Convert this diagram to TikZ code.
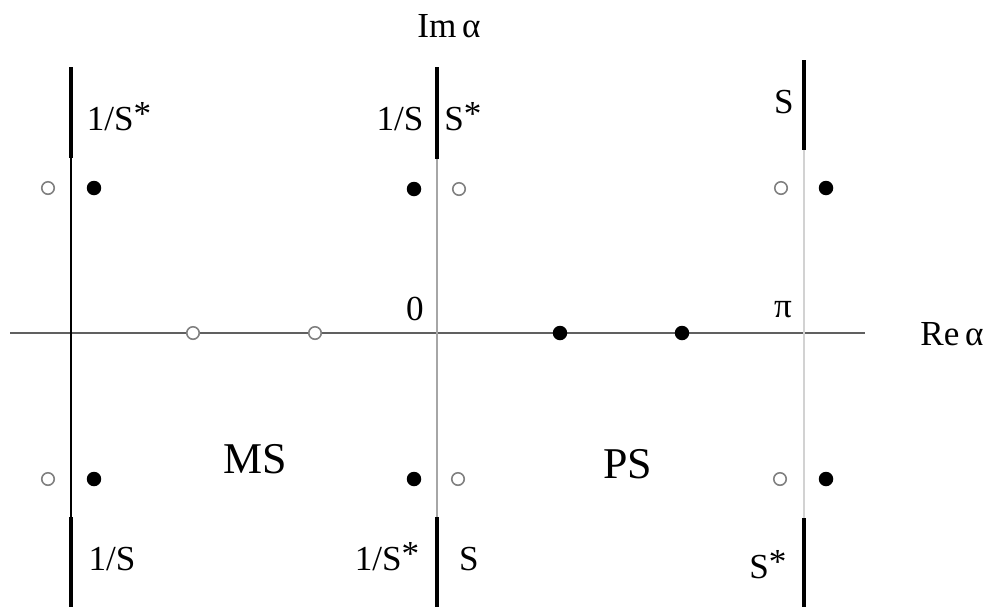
\documentclass[tikz,border=0pt]{standalone}
\usepackage{fontspec}
\setmainfont{Liberation Serif}
\newcommand{\st}{\raisebox{0.12em}{*}}
\begin{document}
\begin{tikzpicture}[x=0.02cm,y=-0.02cm,font=\fontsize{20}{24}\selectfont,
 lab/.style={anchor=base,inner sep=0pt},
 big/.style={anchor=base,inner sep=0pt,font=\fontsize{25}{30}\selectfont},
 cut/.style={line width=2.4pt},
 op/.style={circle,draw=gray,line width=0.9pt,fill=white,minimum size=0.25cm,inner sep=0pt},
 fi/.style={circle,fill=black,minimum size=0.29cm,inner sep=0pt}]
\useasboundingbox (0,0) rectangle (995,609);
% axes
\coordinate (xl) at (10,333);
\coordinate (xr) at (865,333);
\coordinate (Lt) at (71,67);   \coordinate (Lb) at (71,607);
\coordinate (Mt) at (437,67);  \coordinate (Mb) at (437,607);
\coordinate (Rt) at (804,60);  \coordinate (Rb) at (804,607);
\draw[gray!75!black,line width=1.3pt] (xl) -- (xr);
\draw[black,line width=0.8pt] (Lt) -- (Lb);
\draw[gray!70,line width=0.8pt] (Mt) -- (Mb);
\draw[gray!35,line width=0.8pt] (Rt) -- (Rb);
% cuts
\coordinate (L1) at (71,158);  \coordinate (L2) at (71,517);
\coordinate (M1) at (437,159); \coordinate (M2) at (437,517);
\coordinate (R1) at (804,150); \coordinate (R2) at (804,518);
\foreach \a/\b in {Lt/L1,L2/Lb,Mt/M1,M2/Mb,Rt/R1,R2/Rb} \draw[cut] (\a) -- (\b);
% poles and zeros
\node[op] (o1) at (48,188) {};
\node[fi] (f1) at (94,188) {};
\node[fi] (f2) at (414,189) {};
\node[op] (o2) at (459,189) {};
\node[op] (o3) at (781,188) {};
\node[fi] (f3) at (826,188) {};
\node[op] (o4) at (48,479) {};
\node[fi] (f4) at (94,479) {};
\node[fi] (f5) at (414,479) {};
\node[op] (o5) at (458,479) {};
\node[op] (o6) at (780,479) {};
\node[fi] (f6) at (826,479) {};
\node[op] (a1) at (193,333) {};
\node[op] (a2) at (315,333) {};
\node[fi] (a3) at (560,333) {};
\node[fi] (a4) at (682,333) {};
% labels
\node[lab] (im) at (449,37) {Im\,α};
\node[lab] (re) at (952,345) {Re\,α};
\node[lab] (zero) at (415,320) {0};
\node[lab] (pi) at (783,317) {π};
\node[lab] (tl) at (119,130) {1/S\st};
\node[lab] (tm1) at (400,130) {1/S};
\node[lab] (tm2) at (463,130) {S\st};
\node[lab] (tr) at (784,113) {S};
\node[lab] (bl) at (112,570) {1/S};
\node[lab] (bm1) at (387,570) {1/S\st};
\node[lab] (bm2) at (469,570) {S};
\node[lab] (br) at (768,578) {S\st};
\node[big] (ms) at (255,473) {MS};
\node[big] (ps) at (628,478) {PS};
\end{tikzpicture}
\end{document}
